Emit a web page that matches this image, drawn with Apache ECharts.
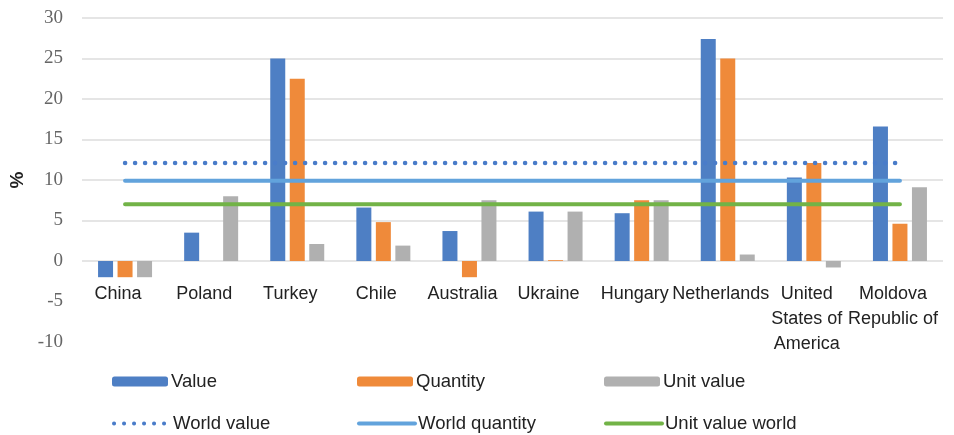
<!DOCTYPE html>
<html><head><meta charset="utf-8">
<script src="https://cdn.jsdelivr.net/npm/echarts@6/dist/echarts.min.js"></script>
<style>html,body{margin:0;padding:0;background:#fff}#c{width:954px;height:435px}</style>
</head><body><div id="c"></div>
<script>
const categories = ['China','Poland','Turkey','Chile','Australia','Ukraine','Hungary','Netherlands','United\nStates of\nAmerica','Moldova\nRepublic of'];
const valueData    = [-2.0, 3.5, 25.0, 6.6, 3.7, 6.1, 5.9, 27.4, 10.3, 16.6];
const quantityData = [-2.0, 0.0, 22.5, 4.8, -2.0, 0.1, 7.5, 25.0, 12.1, 4.6];
const unitData     = [-2.0, 8.0, 2.1, 1.9, 7.5, 6.1, 7.5, 0.8, -0.8, 9.1];
const worldValue    = [12.1, 12.1, 12.1, 12.1, 12.1, 12.1, 12.1, 12.1, 12.1, 12.1];
const worldQuantity = [9.9, 9.9, 9.9, 9.9, 9.9, 9.9, 9.9, 9.9, 9.9, 9.9];
const unitValueWorld = [7.0, 7.0, 7.0, 7.0, 7.0, 7.0, 7.0, 7.0, 7.0, 7.0];
const yTicks = {min: -10, max: 30, interval: 5};

const C = {blue:'#4e7fc4', orange:'#ef8a3a', grey:'#b0b0b0', dot:'#4a7cc9', lblue:'#62a3dc', green:'#72b347'};
function leg(name, left, top, isLine){
  const o = {data:[name], left:left, top:top, itemWidth:56, itemHeight:10, itemGap:0,
          textStyle:{fontFamily:'Liberation Sans', fontSize:18.5, color:'#222', padding:[0,0,0,-2]}, selectedMode:false, padding:0};
  if (isLine) { o.itemStyle = {opacity:0}; o.lineStyle = {width:4}; }
  return o;
}
const chart = echarts.init(document.getElementById('c'));
chart.setOption({
  animation:false,
  grid:{left:82, right:11, top:18, bottom:93, outerBoundsMode:'none', containLabel:false},
  legend:[
    leg('Value',112,372,false), leg('Quantity',357,372,false), leg('Unit value',604,372,false),
    leg('World value',112,414,true), leg('World quantity',357,414,true), leg('Unit value world',604,414,true)
  ],
  xAxis:{type:'category', data:categories, position:'bottom', offset:-81,
    axisLine:{show:false, onZero:false}, axisTick:{show:false},
    axisLabel:{margin:21, interval:0, fontFamily:'Liberation Sans', fontSize:18, color:'#222', lineHeight:25,
      verticalAlign:'top', padding:[0,14,0,0]}},
  yAxis:{type:'value', min:yTicks.min, max:yTicks.max, interval:yTicks.interval,
    name:'%', nameLocation:'middle', nameGap:55, nameRotate:90,
    nameTextStyle:{fontFamily:'Liberation Sans', fontSize:19, fontWeight:'bold', color:'#222'},
    axisLine:{show:false}, axisTick:{show:false},
    axisLabel:{margin:19, fontFamily:'Liberation Serif', fontSize:19, color:'#666'},
    splitLine:{lineStyle:{width:1.5, color:['rgba(0,0,0,0)','rgba(0,0,0,0)','#dcdcdc','#dcdcdc','#dcdcdc','#dcdcdc','#dcdcdc','#dcdcdc','#dcdcdc']}}},
  series:[
    {name:'Value', type:'bar', data:valueData, barWidth:15, barGap:'30%', itemStyle:{color:C.blue}},
    {name:'Quantity', type:'bar', data:quantityData, barWidth:15, barGap:'30%', itemStyle:{color:C.orange}},
    {name:'Unit value', type:'bar', data:unitData, barWidth:15, barGap:'30%', itemStyle:{color:C.grey}},
    {name:'World value', type:'line', data:worldValue, symbol:'none', itemStyle:{color:C.dot},
      lineStyle:{color:C.dot, width:4.5, type:[0.1,9.9], cap:'round'}},
    {name:'World quantity', type:'line', data:worldQuantity, symbol:'none', itemStyle:{color:C.lblue},
      lineStyle:{color:C.lblue, width:4, cap:'round'}},
    {name:'Unit value world', type:'line', data:unitValueWorld, symbol:'none', itemStyle:{color:C.green},
      lineStyle:{color:C.green, width:4, cap:'round'}}
  ]
});
</script></body></html>
